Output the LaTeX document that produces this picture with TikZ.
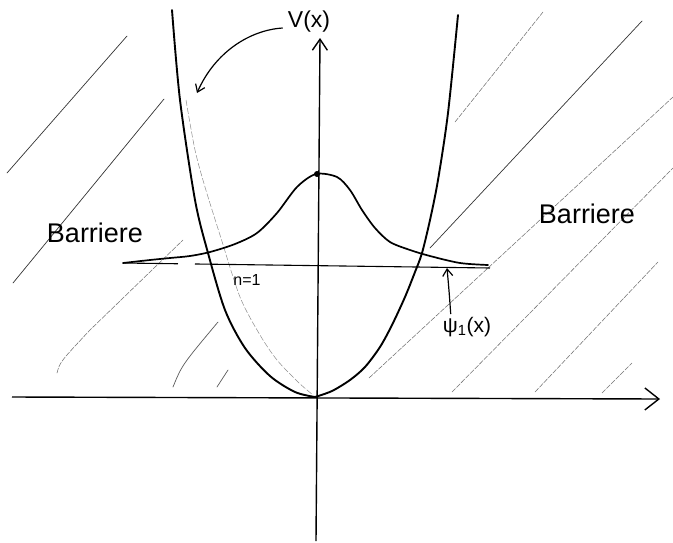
\documentclass[tikz,border=0pt]{standalone}
\usepackage{fontspec}
\setmainfont{Liberation Sans}
\usetikzlibrary{arrows.meta}
\begin{document}
\begin{tikzpicture}[x=1pt,y=-1pt,
  hatchdark/.style={black!80, line width=0.7pt, line cap=round},
  hatchfaint/.style={black!55, line width=0.55pt, dash pattern=on 5pt off 1.5pt, line cap=round},
  potcurve/.style={black, line width=1.9pt, line cap=round, line join=round},
  wavecurve/.style={black, line width=1.7pt, line cap=round, line join=round},
  sketchline/.style={black!45, line width=0.5pt, dash pattern=on 6pt off 2pt},
  axisline/.style={black, line width=1.4pt},
  levelline/.style={black, line width=1.1pt},
  lbl/.style={inner sep=0pt},
  pointer/.style={black, line width=1.2pt, -{Straight Barb[length=7pt,width=10pt,line width=1.2pt]}}]
\useasboundingbox (0,0) rectangle (673,542);

% hatching (barriers)
\draw[hatchdark] (7,173) -- (127,36);
\draw[hatchdark] (13,283) -- (164,99);
\draw[hatchfaint] (57,373) .. controls (60,362) .. (90,330) -- (183,240);
\draw[hatchdark, black!65] (173,387) .. controls (182,365) .. (218,322);
\draw[hatchdark, black!65] (217,387) -- (228,370);
\draw[hatchfaint] (455,122) -- (543,12);
\draw[hatchdark] (430,248) -- (642,21);
\draw[hatchfaint] (369,378) -- (673,97);
\draw[hatchfaint] (452,392) -- (673,168);
\draw[hatchfaint] (535,392) -- (658,262);
\draw[hatchfaint] (602,393) -- (632,363);

% faint sketch line inside left wall
\draw[sketchline] plot[smooth] coordinates {(186,100) (195,150) (205,187) (220,235) (240,297) (260,335) (277,360) (298,382) (313,395)};

% axes
\coordinate (xL) at (12,397);
\coordinate (xR) at (660,399);
\coordinate (yB) at (316,541);
\coordinate (yT) at (320,38);
\draw[axisline, -{Straight Barb[length=14pt,width=22pt,line width=1.4pt]}] (xL) -- (xR);
\draw[axisline, -{Straight Barb[length=11pt,width=15pt,line width=1.4pt]}] (yB) -- (yT);

% energy level n=1
\coordinate (eL) at (123,263);
\coordinate (eR) at (490,268);
\draw[levelline, dash pattern=on 55pt off 17pt on 400pt] (eL) -- (eR);

% potential V(x)
\draw[potcurve] plot[smooth] coordinates {(172,10) (180,100) (195,200) (208,253) (225,310) (245,348) (270,376) (295,392) (315,397)};
\draw[potcurve] plot[smooth] coordinates {(315,397) (332,391) (350,380) (365,367) (380,347) (392,325) (405,297) (415,272) (422,253) (430,220) (438,180) (448,113) (458,15)};

% wave function psi_1
\draw[wavecurve] plot[smooth] coordinates {(123,263) (150,260) (170,258) (190,256) (210,252) (235,244) (257,233) (277,213) (297,187) (316,174) (337,177) (350,190) (362,210) (375,228) (390,242) (410,250) (430,256) (460,263) (488,265)};
\node[circle, fill=black, inner sep=0pt, minimum size=6pt] (peak) at (317,174) {};

% labels
\node[lbl, font=\fontsize{23}{23}\selectfont] (Vlbl) at (309,22) {V(x)};
\node[lbl, font=\fontsize{27}{27}\selectfont] (barL) at (95,233) {Barriere};
\node[lbl, font=\fontsize{27}{27}\selectfont] (barR) at (587,214) {Barriere};
\node[lbl, font=\fontsize{16}{16}\selectfont] (nlbl) at (247,280) {n=1};
\node[lbl, font=\fontsize{21}{21}\selectfont] (psilbl) at (467,327) {ψ\textsubscript{1}(x)};

% pointers
\coordinate (Vtip) at (197,93);
\coordinate (psitip) at (447,268);
\draw[pointer] ([xshift=-5pt,yshift=-6pt]Vlbl.west) .. controls (250,30) and (215,52) .. (Vtip);
\draw[pointer] ([xshift=8pt,yshift=3pt]psilbl.north west) .. controls (449,290) .. (psitip);
\end{tikzpicture}
\end{document}
